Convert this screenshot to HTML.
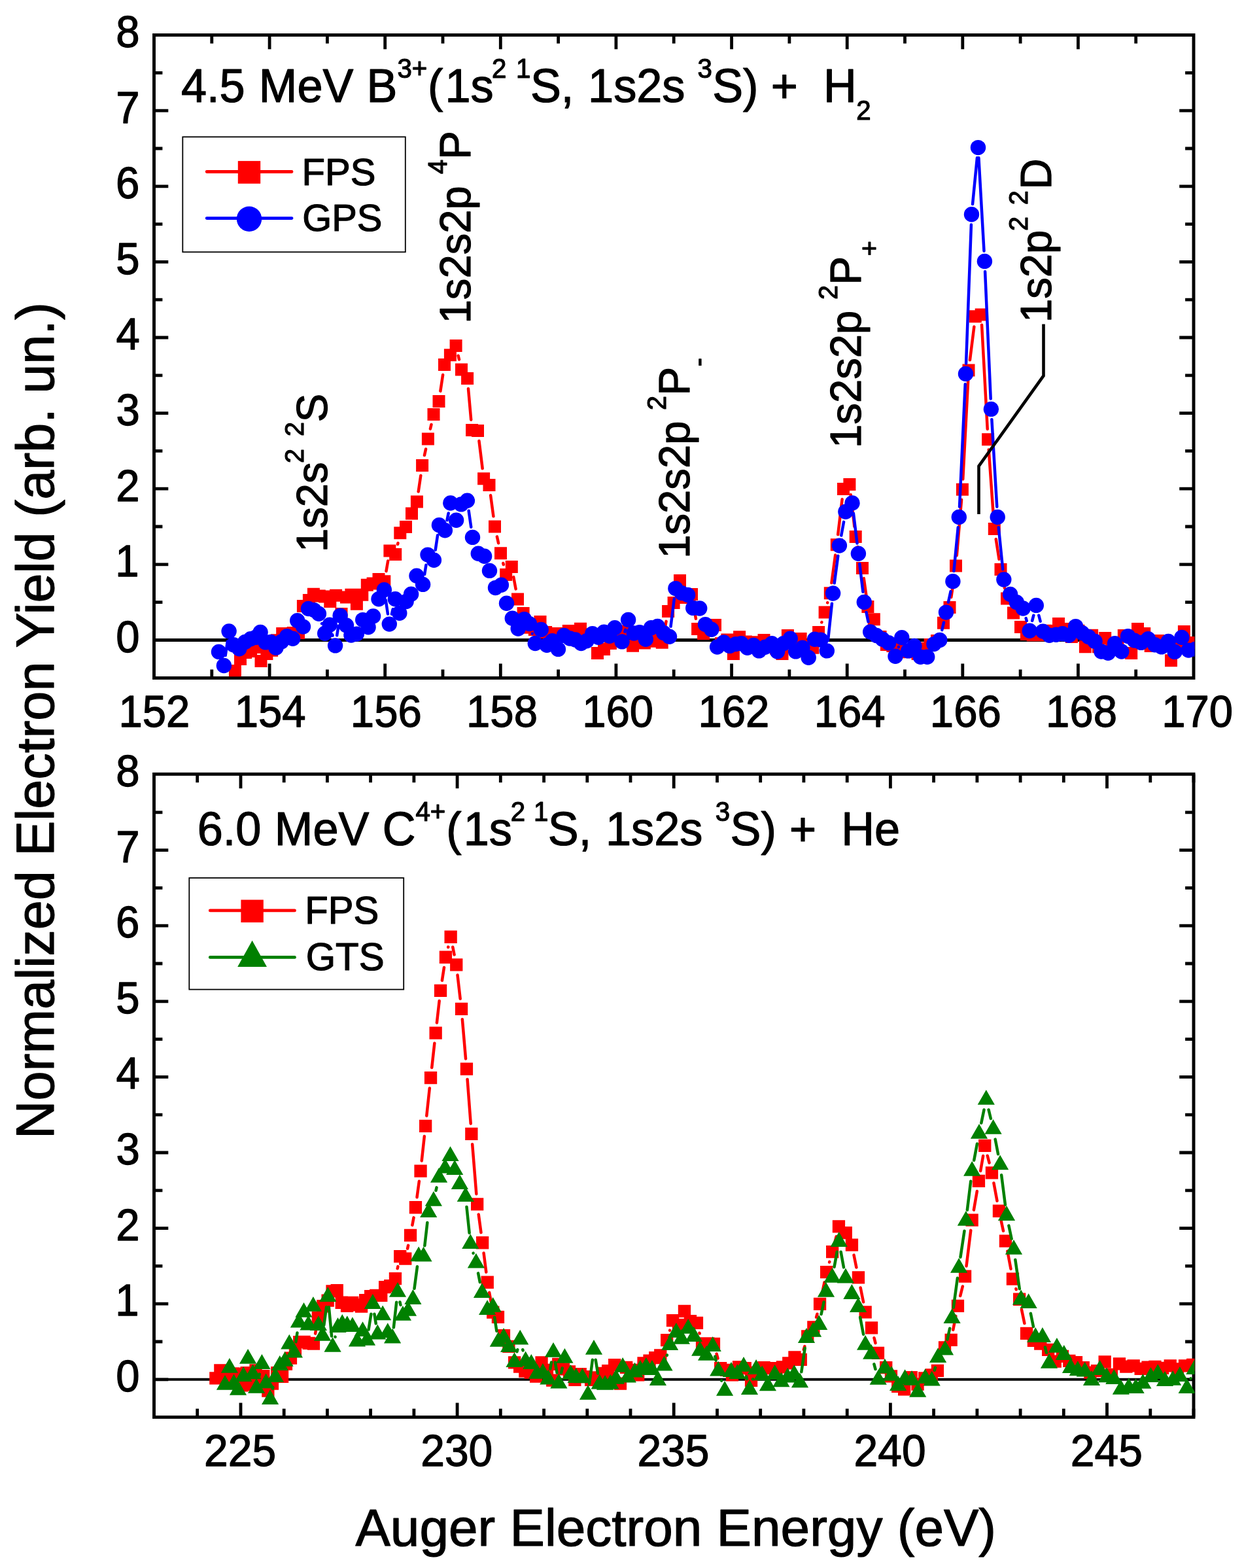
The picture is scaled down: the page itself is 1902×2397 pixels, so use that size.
<!DOCTYPE html>
<html lang="en"><head><meta charset="utf-8"><title>Normalized Electron Yield vs Auger Electron Energy</title>
<style>html,body{margin:0;padding:0;background:#fff}svg{display:block}text{font-family:"Liberation Sans",sans-serif;fill:#000;stroke:#000;stroke-width:1.2px;stroke-linejoin:round;white-space:pre}</style>
</head><body>
<svg width="1902" height="2397" viewBox="0 0 1902 2397">
<rect width="1902" height="2397" fill="#fff"/>
<line x1="235.5" y1="978.4" x2="1825.0" y2="978.4" stroke="#000" stroke-width="5.0"/>
<path d="M412.1,53.5v21.8M412.1,1036.4v-21.8M588.7,53.5v21.8M588.7,1036.4v-21.8M765.3,53.5v21.8M765.3,1036.4v-21.8M941.9,53.5v21.8M941.9,1036.4v-21.8M1118.6,53.5v21.8M1118.6,1036.4v-21.8M1295.2,53.5v21.8M1295.2,1036.4v-21.8M1471.8,53.5v21.8M1471.8,1036.4v-21.8M1648.4,53.5v21.8M1648.4,1036.4v-21.8M323.8,53.5v12.9M323.8,1036.4v-12.9M500.4,53.5v12.9M500.4,1036.4v-12.9M677,53.5v12.9M677,1036.4v-12.9M853.6,53.5v12.9M853.6,1036.4v-12.9M1030.2,53.5v12.9M1030.2,1036.4v-12.9M1206.9,53.5v12.9M1206.9,1036.4v-12.9M1383.5,53.5v12.9M1383.5,1036.4v-12.9M1560.1,53.5v12.9M1560.1,1036.4v-12.9M1736.7,53.5v12.9M1736.7,1036.4v-12.9M235.5,978.4h21.8M1825,978.4h-21.8M235.5,920.6h12.9M1825,920.6h-12.9M235.5,862.8h21.8M1825,862.8h-21.8M235.5,805h12.9M1825,805h-12.9M235.5,747.2h21.8M1825,747.2h-21.8M235.5,689.4h12.9M1825,689.4h-12.9M235.5,631.6h21.8M1825,631.6h-21.8M235.5,573.8h12.9M1825,573.8h-12.9M235.5,516h21.8M1825,516h-21.8M235.5,458.2h12.9M1825,458.2h-12.9M235.5,400.4h21.8M1825,400.4h-21.8M235.5,342.6h12.9M1825,342.6h-12.9M235.5,284.8h21.8M1825,284.8h-21.8M235.5,227h12.9M1825,227h-12.9M235.5,169.2h21.8M1825,169.2h-21.8M235.5,111.4h12.9M1825,111.4h-12.9" stroke="#000" stroke-width="4.8" fill="none"/>
<rect x="235.5" y="53.55" width="1589.5" height="982.9" fill="none" stroke="#000" stroke-width="4.9"/>
<svg x="233.2" y="51.2" width="1593.2" height="983" viewBox="233.2 51.2 1593.2 983" overflow="hidden">
<path d="M459.13,951.82L460.77,942.08M590.49,873.13L593.21,857.47M608.05,832.06L608.45,830.24M639.7,751.47L643.3,727.03M648.96,695.96L651.04,686.44M657.94,655.6L659.46,649M673.37,597.88L677.13,573.02M700.64,543.8L701.96,549.5M716,594.24L720.2,641.66M732.44,674.08L737.66,716.12M750.1,757.26L754.4,789.24M759.9,820.33L762.1,830.27M769.34,861.03L769.86,863.07M785.2,882.13L788.6,900.37M1015.24,966.8L1018.56,949.9M1034.31,906.27L1035.29,902.73M1060.18,924.17L1063.92,945.83M1256.3,951.41L1256.4,951.09M1265.19,921.4L1265.21,921.3M1271.42,891.04L1277.18,848.46M1281.18,817.11L1287.62,763.19M1300.72,756.29L1306.38,804.91M1311.52,836.05L1315.18,853.05M1320.72,884.14L1324.68,911.96M1454.33,912.87L1459.17,880.53M1462.84,849.16L1470.06,764.04M1472.23,732.52L1480.17,581.78M1482.96,550.32L1489.34,499.48M1501.06,496.68L1509.74,655.92M1511.72,687.46L1519.18,792.84M1522.75,824.21L1527.55,854.79M1533.29,885.85L1536.21,899.55M1733.74,983.22L1735.46,976.68" fill="none" stroke="#ff0000" stroke-width="4.5" stroke-linecap="round"/>
<path d="M349.9,1015.9h19v19h-19zM358,997.9h19v19h-19zM366.1,987.9h19v19h-19zM374.1,986h19v19h-19zM382,980.1h19v19h-19zM389.5,1001h19v19h-19zM398.4,990h19v19h-19zM406.1,984.8h19v19h-19zM414.1,969.2h19v19h-19zM422.2,958.9h19v19h-19zM430.5,959.3h19v19h-19zM438.6,957.9h19v19h-19zM447,957.9h19v19h-19zM453.9,917h19v19h-19zM462.9,907.9h19v19h-19zM469.9,898.8h19v19h-19zM478.8,901.6h19v19h-19zM487.2,902.6h19v19h-19zM495.3,910h19v19h-19zM504.1,900.7h19v19h-19zM512.5,929.1h19v19h-19zM520,903.5h19v19h-19zM527.4,899.8h19v19h-19zM535.9,913.8h19v19h-19zM544.3,899.8h19v19h-19zM551.8,884.8h19v19h-19zM560.6,882.4h19v19h-19zM569.5,876h19v19h-19zM578.3,879.2h19v19h-19zM586.4,832.4h19v19h-19zM595.2,838h19v19h-19zM602.3,805.3h19v19h-19zM611,796h19v19h-19zM620,775.4h19v19h-19zM627.9,757.6h19v19h-19zM636.1,701.9h19v19h-19zM644.9,661.5h19v19h-19zM653.5,624.1h19v19h-19zM661.5,604h19v19h-19zM670,547.9h19v19h-19zM678.9,533.3h19v19h-19zM687.6,518.9h19v19h-19zM696,555.4h19v19h-19zM705.1,569h19v19h-19zM712.1,647.9h19v19h-19zM721,648.9h19v19h-19zM730.1,722.3h19v19h-19zM738.5,732.1h19v19h-19zM747,795.4h19v19h-19zM756,836.2h19v19h-19zM764.2,868.9h19v19h-19zM772.8,857.1h19v19h-19zM782,906.4h19v19h-19zM790.6,928h19v19h-19zM799.5,949.7h19v19h-19zM807.9,953h19v19h-19zM816.5,941.1h19v19h-19zM825.2,957h19v19h-19zM834.1,959.1h19v19h-19zM842.5,959.1h19v19h-19zM851.1,960h19v19h-19zM859.8,955h19v19h-19zM868.9,955.3h19v19h-19zM878,951.8h19v19h-19zM886.7,962.8h19v19h-19zM895.3,962.8h19v19h-19zM904,989h19v19h-19zM914,982.9h19v19h-19zM923.9,974h19v19h-19zM932.4,959.1h19v19h-19zM941,957.9h19v19h-19zM949.5,955.6h19v19h-19zM958,977.7h19v19h-19zM966.9,970.8h19v19h-19zM975.9,973.6h19v19h-19zM984.8,970.8h19v19h-19zM993.8,964.9h19v19h-19zM1002.7,972.8h19v19h-19zM1012.1,924.9h19v19h-19zM1020.6,912h19v19h-19zM1030,878h19v19h-19zM1038.6,904h19v19h-19zM1048,899.1h19v19h-19zM1057.1,951.9h19v19h-19zM1066.1,959h19v19h-19zM1075,952.1h19v19h-19zM1084,946h19v19h-19zM1092.9,974.3h19v19h-19zM1102.4,968.6h19v19h-19zM1111.9,989.9h19v19h-19zM1121.1,964.3h19v19h-19zM1130.8,971.4h19v19h-19zM1140,972.3h19v19h-19zM1149.1,972.3h19v19h-19zM1158.5,969h19v19h-19zM1167.8,976.1h19v19h-19zM1177.2,981.7h19v19h-19zM1186.5,990.1h19v19h-19zM1194.9,962h19v19h-19zM1205.2,972.3h19v19h-19zM1214.6,967.1h19v19h-19zM1223.9,977.9h19v19h-19zM1233.3,980.8h19v19h-19zM1242.1,957h19v19h-19zM1251.6,926.5h19v19h-19zM1259.8,897.2h19v19h-19zM1269.8,823.3h19v19h-19zM1280,738h19v19h-19zM1289.4,731.1h19v19h-19zM1298.7,811.1h19v19h-19zM1309,859h19v19h-19zM1317.4,918.1h19v19h-19zM1326.8,937.2h19v19h-19zM1336.5,963.9h19v19h-19zM1345.9,976.1h19v19h-19zM1355.4,977.9h19v19h-19zM1365,979.8h19v19h-19zM1374.5,987.3h19v19h-19zM1384,985.4h19v19h-19zM1393.6,990.1h19v19h-19zM1403.1,981.7h19v19h-19zM1412.6,976.1h19v19h-19zM1423,970h19v19h-19zM1433,942.8h19v19h-19zM1442.5,919h19v19h-19zM1452,855.4h19v19h-19zM1461.9,738.8h19v19h-19zM1471.5,556.5h19v19h-19zM1481.8,474.3h19v19h-19zM1490.7,471.4h19v19h-19zM1501.1,662.2h19v19h-19zM1510.8,799.1h19v19h-19zM1520.5,860.9h19v19h-19zM1530,905.5h19v19h-19zM1540,927.4h19v19h-19zM1551,949.1h19v19h-19zM1559.9,960.1h19v19h-19zM1569.8,961.2h19v19h-19zM1579.7,961.2h19v19h-19zM1589.6,954.7h19v19h-19zM1599.3,955.6h19v19h-19zM1609,943.9h19v19h-19zM1619,951.9h19v19h-19zM1628.9,964h19v19h-19zM1639.3,954.7h19v19h-19zM1649.9,979.2h19v19h-19zM1660.1,961.7h19v19h-19zM1670,979.2h19v19h-19zM1680.2,965.9h19v19h-19zM1689.8,978h19v19h-19zM1699.4,978h19v19h-19zM1708.8,961.9h19v19h-19zM1720.2,989h19v19h-19zM1730,951.9h19v19h-19zM1740.2,958.9h19v19h-19zM1749.7,978h19v19h-19zM1760.9,970.1h19v19h-19zM1771,973.4h19v19h-19zM1781,1000.2h19v19h-19zM1790.8,978h19v19h-19zM1800.9,956.1h19v19h-19zM1811.4,972.9h19v19h-19z" fill="#ff0000"/>
<path d="M344.69,1001.87L347.81,980.53M492.04,953.15L492.06,953.25M508.24,970.38L508.56,971.62M515.15,971.31L517.55,956.69M589.76,917.42L592.94,938.48M598.91,938.72L600.69,931.18M649.15,877.81L651.45,863.69M665.73,840.67L669.07,818.33M683.52,795.21L685.68,784.49M716.65,780.84L720.25,805.76M813.89,968.5L813.91,968.6M955.36,965.71L956.24,962.69M1025.5,957.63L1030.9,915.27M1265.96,979.19L1271.94,922.71M1275.71,891.34L1281.29,849.76M1286.25,818.56L1290.05,797.84M1304.91,784.68L1310.49,830.52M1314.28,861.89L1319.42,904.81M1324.5,935.97L1327.5,950.43M1373.88,989.05L1373.92,988.95M1440.32,963.1L1442.98,951.5M1449.89,920.67L1453.51,904.13M1458.41,872.97L1464.79,806.23M1467.04,774.72L1475.76,587.28M1477.08,555.71L1484.92,343.59M1487.04,312.08L1493.96,241.32M1496.4,241.37L1504.5,383.63M1506.1,415.18L1514.7,609.62M1516.34,641.17L1524.26,774.73M1526.78,806.22L1533.22,870.18M1568.63,945.17L1569.77,949.03M1578.18,948.91L1580.32,940.69M1588.27,940.69L1590.63,949.81" fill="none" stroke="#0000ff" stroke-width="4.5" stroke-linecap="round"/>
<g fill="#0000ff"><circle cx="334.5" cy="996.4" r="11.7"/><circle cx="342.4" cy="1017.5" r="11.7"/><circle cx="350.1" cy="964.9" r="11.7"/><circle cx="356.9" cy="985.7" r="11.7"/><circle cx="365.8" cy="991.7" r="11.7"/><circle cx="374.7" cy="981.5" r="11.7"/><circle cx="383.1" cy="976.8" r="11.7"/><circle cx="390.6" cy="974.4" r="11.7"/><circle cx="398.1" cy="966.5" r="11.7"/><circle cx="406" cy="981.9" r="11.7"/><circle cx="414" cy="981.5" r="11.7"/><circle cx="421.9" cy="990.2" r="11.7"/><circle cx="430.3" cy="981" r="11.7"/><circle cx="438.8" cy="972.6" r="11.7"/><circle cx="447.6" cy="976.3" r="11.7"/><circle cx="454.7" cy="948.7" r="11.7"/><circle cx="463.5" cy="958.1" r="11.7"/><circle cx="471.5" cy="930.5" r="11.7"/><circle cx="479.9" cy="932.6" r="11.7"/><circle cx="487.4" cy="938.2" r="11.7"/><circle cx="496.7" cy="968.2" r="11.7"/><circle cx="504.2" cy="955.1" r="11.7"/><circle cx="512.6" cy="986.9" r="11.7"/><circle cx="520.1" cy="941.1" r="11.7"/><circle cx="529.5" cy="956" r="11.7"/><circle cx="536.9" cy="971" r="11.7"/><circle cx="545.4" cy="969.1" r="11.7"/><circle cx="554.7" cy="947.6" r="11.7"/><circle cx="563.1" cy="958.8" r="11.7"/><circle cx="570.6" cy="942" r="11.7"/><circle cx="579" cy="915.8" r="11.7"/><circle cx="587.4" cy="901.8" r="11.7"/><circle cx="595.3" cy="954.1" r="11.7"/><circle cx="604.3" cy="915.8" r="11.7"/><circle cx="610.8" cy="937.3" r="11.7"/><circle cx="621.1" cy="919.5" r="11.7"/><circle cx="628.6" cy="908.3" r="11.7"/><circle cx="637" cy="880.3" r="11.7"/><circle cx="646.6" cy="893.4" r="11.7"/><circle cx="654" cy="848.1" r="11.7"/><circle cx="663.4" cy="856.3" r="11.7"/><circle cx="671.4" cy="802.7" r="11.7"/><circle cx="680.4" cy="810.7" r="11.7"/><circle cx="688.8" cy="769" r="11.7"/><circle cx="697.6" cy="795.2" r="11.7"/><circle cx="705.1" cy="770.9" r="11.7"/><circle cx="714.4" cy="765.2" r="11.7"/><circle cx="722.5" cy="821.4" r="11.7"/><circle cx="731.3" cy="846.2" r="11.7"/><circle cx="740.6" cy="850.3" r="11.7"/><circle cx="748.5" cy="872.4" r="11.7"/><circle cx="757.5" cy="898.6" r="11.7"/><circle cx="766.4" cy="894.3" r="11.7"/><circle cx="774.5" cy="922.3" r="11.7"/><circle cx="783.3" cy="945.2" r="11.7"/><circle cx="792.2" cy="961.1" r="11.7"/><circle cx="801.5" cy="946.6" r="11.7"/><circle cx="809.5" cy="953.6" r="11.7"/><circle cx="818.3" cy="983.5" r="11.7"/><circle cx="827.2" cy="962.5" r="11.7"/><circle cx="836.1" cy="986.3" r="11.7"/><circle cx="844.5" cy="979.8" r="11.7"/><circle cx="853.4" cy="992.4" r="11.7"/><circle cx="862.3" cy="971.4" r="11.7"/><circle cx="871.2" cy="976" r="11.7"/><circle cx="879.6" cy="977.9" r="11.7"/><circle cx="888.5" cy="983.5" r="11.7"/><circle cx="896.9" cy="979.8" r="11.7"/><circle cx="905.8" cy="968.6" r="11.7"/><circle cx="914.7" cy="974.2" r="11.7"/><circle cx="923.5" cy="966.2" r="11.7"/><circle cx="932" cy="972.3" r="11.7"/><circle cx="940" cy="959.7" r="11.7"/><circle cx="951" cy="980.9" r="11.7"/><circle cx="960.6" cy="947.5" r="11.7"/><circle cx="969.2" cy="968" r="11.7"/><circle cx="977.9" cy="966.8" r="11.7"/><circle cx="987.3" cy="977.3" r="11.7"/><circle cx="995.5" cy="959.8" r="11.7"/><circle cx="1005.4" cy="957.5" r="11.7"/><circle cx="1014.7" cy="967.4" r="11.7"/><circle cx="1023.5" cy="973.3" r="11.7"/><circle cx="1032.9" cy="899.6" r="11.7"/><circle cx="1042.2" cy="906.6" r="11.7"/><circle cx="1051.6" cy="909.5" r="11.7"/><circle cx="1059.7" cy="929.4" r="11.7"/><circle cx="1069.7" cy="930" r="11.7"/><circle cx="1078.5" cy="954.6" r="11.7"/><circle cx="1087.8" cy="962.2" r="11.7"/><circle cx="1096.6" cy="989" r="11.7"/><circle cx="1106.5" cy="982" r="11.7"/><circle cx="1115.6" cy="987.4" r="11.7"/><circle cx="1125" cy="984.6" r="11.7"/><circle cx="1133.4" cy="983.7" r="11.7"/><circle cx="1142.7" cy="990.3" r="11.7"/><circle cx="1152.1" cy="986.5" r="11.7"/><circle cx="1160.5" cy="994.9" r="11.7"/><circle cx="1169.8" cy="989.3" r="11.7"/><circle cx="1180.1" cy="983.7" r="11.7"/><circle cx="1188.6" cy="995.9" r="11.7"/><circle cx="1197.9" cy="983.7" r="11.7"/><circle cx="1208.2" cy="976.2" r="11.7"/><circle cx="1216.6" cy="995.9" r="11.7"/><circle cx="1226.9" cy="990.3" r="11.7"/><circle cx="1236.2" cy="1005.2" r="11.7"/><circle cx="1245.6" cy="977.2" r="11.7"/><circle cx="1254.9" cy="978.1" r="11.7"/><circle cx="1264.3" cy="994.9" r="11.7"/><circle cx="1273.6" cy="907" r="11.7"/><circle cx="1283.4" cy="834.1" r="11.7"/><circle cx="1292.9" cy="782.3" r="11.7"/><circle cx="1303" cy="769" r="11.7"/><circle cx="1312.4" cy="846.2" r="11.7"/><circle cx="1321.3" cy="920.5" r="11.7"/><circle cx="1330.7" cy="965.9" r="11.7"/><circle cx="1340" cy="971.5" r="11.7"/><circle cx="1349.4" cy="977.2" r="11.7"/><circle cx="1358.7" cy="982.8" r="11.7"/><circle cx="1369" cy="1003.3" r="11.7"/><circle cx="1378.8" cy="974.7" r="11.7"/><circle cx="1388.7" cy="994.9" r="11.7"/><circle cx="1398" cy="987.4" r="11.7"/><circle cx="1407.4" cy="1004.3" r="11.7"/><circle cx="1417.7" cy="1004.3" r="11.7"/><circle cx="1427.9" cy="984.6" r="11.7"/><circle cx="1436.8" cy="978.5" r="11.7"/><circle cx="1446.5" cy="936.1" r="11.7"/><circle cx="1456.9" cy="888.7" r="11.7"/><circle cx="1466.3" cy="790.5" r="11.7"/><circle cx="1476.5" cy="571.5" r="11.7"/><circle cx="1485.5" cy="327.8" r="11.7"/><circle cx="1495.5" cy="225.6" r="11.7"/><circle cx="1505.4" cy="399.4" r="11.7"/><circle cx="1515.4" cy="625.4" r="11.7"/><circle cx="1525.2" cy="790.5" r="11.7"/><circle cx="1534.8" cy="885.9" r="11.7"/><circle cx="1544.6" cy="908.4" r="11.7"/><circle cx="1554.3" cy="920.7" r="11.7"/><circle cx="1564.2" cy="930" r="11.7"/><circle cx="1574.2" cy="964.2" r="11.7"/><circle cx="1584.3" cy="925.4" r="11.7"/><circle cx="1594.6" cy="965.1" r="11.7"/><circle cx="1604.4" cy="971.2" r="11.7"/><circle cx="1614.7" cy="970.2" r="11.7"/><circle cx="1624.5" cy="968.8" r="11.7"/><circle cx="1634.3" cy="971.2" r="11.7"/><circle cx="1644.6" cy="957.6" r="11.7"/><circle cx="1654.4" cy="967.4" r="11.7"/><circle cx="1664.3" cy="973.5" r="11.7"/><circle cx="1674.1" cy="980.5" r="11.7"/><circle cx="1683.9" cy="996" r="11.7"/><circle cx="1694.2" cy="998.3" r="11.7"/><circle cx="1704.5" cy="983.8" r="11.7"/><circle cx="1714.8" cy="996" r="11.7"/><circle cx="1724.6" cy="972.6" r="11.7"/><circle cx="1734.4" cy="979.1" r="11.7"/><circle cx="1744.7" cy="982.4" r="11.7"/><circle cx="1755.5" cy="976.8" r="11.7"/><circle cx="1765.7" cy="985.7" r="11.7"/><circle cx="1776" cy="988.9" r="11.7"/><circle cx="1786.3" cy="980.5" r="11.7"/><circle cx="1796.1" cy="996.4" r="11.7"/><circle cx="1806.9" cy="974.4" r="11.7"/><circle cx="1817.2" cy="994.1" r="11.7"/><circle cx="1827.5" cy="992.2" r="11.7"/></g>
</svg>
<line x1="235.5" y1="2108.8" x2="1825.0" y2="2108.8" stroke="#000" stroke-width="4.0"/>
<path d="M368,1183.4v21.8M368,2166.4v-21.8M699.1,1183.4v21.8M699.1,2166.4v-21.8M1030.2,1183.4v21.8M1030.2,2166.4v-21.8M1361.4,1183.4v21.8M1361.4,2166.4v-21.8M1692.5,1183.4v21.8M1692.5,2166.4v-21.8M301.7,1183.4v12.9M301.7,2166.4v-12.9M434.2,1183.4v12.9M434.2,2166.4v-12.9M500.4,1183.4v12.9M500.4,2166.4v-12.9M566.6,1183.4v12.9M566.6,2166.4v-12.9M632.9,1183.4v12.9M632.9,2166.4v-12.9M765.3,1183.4v12.9M765.3,2166.4v-12.9M831.6,1183.4v12.9M831.6,2166.4v-12.9M897.8,1183.4v12.9M897.8,2166.4v-12.9M964,1183.4v12.9M964,2166.4v-12.9M1096.5,1183.4v12.9M1096.5,2166.4v-12.9M1162.7,1183.4v12.9M1162.7,2166.4v-12.9M1228.9,1183.4v12.9M1228.9,2166.4v-12.9M1295.2,1183.4v12.9M1295.2,2166.4v-12.9M1427.6,1183.4v12.9M1427.6,2166.4v-12.9M1493.9,1183.4v12.9M1493.9,2166.4v-12.9M1560.1,1183.4v12.9M1560.1,2166.4v-12.9M1626.3,1183.4v12.9M1626.3,2166.4v-12.9M1758.8,1183.4v12.9M1758.8,2166.4v-12.9M1825,1183.4v12.9M1825,2166.4v-12.9M235.5,2108.8h21.8M1825,2108.8h-21.8M235.5,2051h12.9M1825,2051h-12.9M235.5,1993.2h21.8M1825,1993.2h-21.8M235.5,1935.4h12.9M1825,1935.4h-12.9M235.5,1877.6h21.8M1825,1877.6h-21.8M235.5,1819.8h12.9M1825,1819.8h-12.9M235.5,1762h21.8M1825,1762h-21.8M235.5,1704.2h12.9M1825,1704.2h-12.9M235.5,1646.4h21.8M1825,1646.4h-21.8M235.5,1588.6h12.9M1825,1588.6h-12.9M235.5,1530.8h21.8M1825,1530.8h-21.8M235.5,1473h12.9M1825,1473h-12.9M235.5,1415.2h21.8M1825,1415.2h-21.8M235.5,1357.4h12.9M1825,1357.4h-12.9M235.5,1299.6h21.8M1825,1299.6h-21.8M235.5,1241.8h12.9M1825,1241.8h-12.9" stroke="#000" stroke-width="4.8" fill="none"/>
<rect x="235.5" y="1183.4" width="1589.5" height="983" fill="none" stroke="#000" stroke-width="4.9"/>
<svg x="233.2" y="1181.1" width="1593.2" height="983.1" viewBox="233.2 1181.1 1593.2 983.1" overflow="hidden">
<path d="M482.09,2038.63L483.61,2029.87M607.73,1939.15L608.37,1936.15M623.07,1908.66L624.13,1903.84M630.38,1872.86L632.52,1861.34M637.54,1830.15L640.86,1805.75M644.74,1774.4L648.86,1737.1M652.28,1705.69L656.82,1663.41M660.24,1632L664.36,1594.8M667.9,1563.4L671.7,1530.1M675.91,1498.79L678.99,1478.91M685.21,1447.97L685.29,1447.63M692.23,1447.79L694.57,1459.41M699.51,1490.6L703.69,1526.8M706.86,1558.24L712.04,1618.46M714.59,1649.96L719.71,1717.64M722.17,1749.15L728.33,1825.15M731.73,1856.56L735.47,1884.14M739.59,1915.47L743.31,1944.63M748.14,1975.84L750.86,1990.66M1024.09,2033.7L1024.11,2033.6M1069.45,2037.7L1069.65,2038.5M1095.61,2069.63L1097.49,2076.47M1228.79,2063.15L1230.31,2058.05M1248.08,2013.66L1249.42,2008.74M1256.8,1978.03L1260.5,1960.17M1268.11,1929.53L1268.29,1928.87M1276.57,1898.38L1278.63,1890.22M1305.53,1918.59L1309.37,1937.51M1315.63,1968.49L1320.07,1990.41M1336.5,2045.21L1338.5,2053.09M1438.14,2080.33L1439.86,2074.87M1457.24,2032.9L1461.36,2011.9M1468.19,1981.06L1471.81,1966.44M1477.54,1935.42L1484.26,1880.88M1488.89,1849.63L1493.81,1821.07M1499.18,1789.93L1503.12,1767.07M1509.75,1766.8L1512.55,1777.6M1519.4,1808.43L1524.5,1835.77M1530.77,1866.74L1534.03,1881.66M1540.34,1912.62L1545.46,1939.68M1553.37,1970.2L1553.73,1971.3M1561.93,2001.77L1566.37,2023.03" fill="none" stroke="#ff0000" stroke-width="4.5" stroke-linecap="round"/>
<path d="M320.2,2097.2h19.3v19.3h-19.3zM327.2,2085.2h19.3v19.3h-19.3zM334.2,2093.9h19.3v19.3h-19.3zM341.2,2093.9h19.3v19.3h-19.3zM347,2090.3h19.3v19.3h-19.3zM353.6,2090.8h19.3v19.3h-19.3zM360.5,2108.3h19.3v19.3h-19.3zM367.5,2089h19.3v19.3h-19.3zM374.5,2107h19.3v19.3h-19.3zM381.4,2085.2h19.3v19.3h-19.3zM387.1,2098h19.3v19.3h-19.3zM393.2,2093.9h19.3v19.3h-19.3zM400.2,2116.4h19.3v19.3h-19.3zM406.8,2105.4h19.3v19.3h-19.3zM414.1,2089h19.3v19.3h-19.3zM421.9,2094.8h19.3v19.3h-19.3zM427.8,2075.5h19.3v19.3h-19.3zM434.8,2066.5h19.3v19.3h-19.3zM441.8,2055h19.3v19.3h-19.3zM448.1,2042h19.3v19.3h-19.3zM455.5,2041.7h19.3v19.3h-19.3zM462.5,2043.7h19.3v19.3h-19.3zM469.8,2044.5h19.3v19.3h-19.3zM476.7,2004.6h19.3v19.3h-19.3zM484.2,1987.1h19.3v19.3h-19.3zM491.5,1978.4h19.3v19.3h-19.3zM498.4,1964.3h19.3v19.3h-19.3zM505.6,1962.9h19.3v19.3h-19.3zM512.6,1981.6h19.3v19.3h-19.3zM520.9,1986.6h19.3v19.3h-19.3zM529.1,1981.8h19.3v19.3h-19.3zM536.1,1985.1h19.3v19.3h-19.3zM542.9,1987.4h19.3v19.3h-19.3zM549,1978h19.3v19.3h-19.3zM557,1971.9h19.3v19.3h-19.3zM565.1,1970.8h19.3v19.3h-19.3zM573.1,1970.8h19.3v19.3h-19.3zM579,1957.9h19.3v19.3h-19.3zM587.1,1955.9h19.3v19.3h-19.3zM594.8,1944.9h19.3v19.3h-19.3zM602.1,1911h19.3v19.3h-19.3zM610.1,1914.4h19.3v19.3h-19.3zM617.9,1878.8h19.3v19.3h-19.3zM625.8,1836.1h19.3v19.3h-19.3zM633.4,1780.4h19.3v19.3h-19.3zM641,1711.8h19.3v19.3h-19.3zM648.9,1638h19.3v19.3h-19.3zM656.5,1569.4h19.3v19.3h-19.3zM663.9,1504.8h19.3v19.3h-19.3zM671.8,1453.6h19.3v19.3h-19.3zM679.5,1422.6h19.3v19.3h-19.3zM688.1,1465.2h19.3v19.3h-19.3zM695.9,1532.8h19.3v19.3h-19.3zM703.8,1624.5h19.3v19.3h-19.3zM711.2,1723.8h19.3v19.3h-19.3zM720,1831.2h19.3v19.3h-19.3zM728,1890.1h19.3v19.3h-19.3zM735.6,1950.6h19.3v19.3h-19.3zM744.1,1996.5h19.3v19.3h-19.3zM751.8,2003.8h19.3v19.3h-19.3zM760.8,2031.9h19.3v19.3h-19.3zM768.2,2048.7h19.3v19.3h-19.3zM777,2073.2h19.3v19.3h-19.3zM785,2079.5h19.3v19.3h-19.3zM793.2,2086.5h19.3v19.3h-19.3zM801.6,2088.5h19.3v19.3h-19.3zM810,2094.5h19.3v19.3h-19.3zM818.4,2073.2h19.3v19.3h-19.3zM826.8,2084.7h19.3v19.3h-19.3zM835.1,2100.4h19.3v19.3h-19.3zM844.1,2075.7h19.3v19.3h-19.3zM851.8,2083.3h19.3v19.3h-19.3zM860.8,2087.2h19.3v19.3h-19.3zM869.2,2099.7h19.3v19.3h-19.3zM877.6,2091h19.3v19.3h-19.3zM885.9,2094.9h19.3v19.3h-19.3zM894,2099.7h19.3v19.3h-19.3zM902.6,2096.2h19.3v19.3h-19.3zM911.6,2089.8h19.3v19.3h-19.3zM920,2085.9h19.3v19.3h-19.3zM930,2076.9h19.3v19.3h-19.3zM938.8,2105.4h19.3v19.3h-19.3zM948,2080.8h19.3v19.3h-19.3zM957,2084.7h19.3v19.3h-19.3zM966,2092.3h19.3v19.3h-19.3zM974.4,2074.3h19.3v19.3h-19.3zM983.4,2070.5h19.3v19.3h-19.3zM992.1,2066h19.3v19.3h-19.3zM1000.1,2062.2h19.3v19.3h-19.3zM1010,2038.9h19.3v19.3h-19.3zM1018.9,2009h19.3v19.3h-19.3zM1027.8,2015.8h19.3v19.3h-19.3zM1036.8,1994.8h19.3v19.3h-19.3zM1045.8,2010h19.3v19.3h-19.3zM1055.8,2012.8h19.3v19.3h-19.3zM1063.9,2044.2h19.3v19.3h-19.3zM1073.3,2044.2h19.3v19.3h-19.3zM1081.8,2044.8h19.3v19.3h-19.3zM1092,2082h19.3v19.3h-19.3zM1101,2084.7h19.3v19.3h-19.3zM1109.8,2092.3h19.3v19.3h-19.3zM1119.9,2080.2h19.3v19.3h-19.3zM1129.6,2082h19.3v19.3h-19.3zM1138.9,2100.8h19.3v19.3h-19.3zM1148.5,2088.8h19.3v19.3h-19.3zM1158.4,2081h19.3v19.3h-19.3zM1167.9,2082h19.3v19.3h-19.3zM1177.3,2085.3h19.3v19.3h-19.3zM1186.8,2080.3h19.3v19.3h-19.3zM1196.1,2074.2h19.3v19.3h-19.3zM1205.3,2065.2h19.3v19.3h-19.3zM1214.6,2068.7h19.3v19.3h-19.3zM1225.1,2033.2h19.3v19.3h-19.3zM1234.2,2019.2h19.3v19.3h-19.3zM1243.9,1983.8h19.3v19.3h-19.3zM1254,1935h19.3v19.3h-19.3zM1263,1904h19.3v19.3h-19.3zM1272.8,1865.2h19.3v19.3h-19.3zM1283.6,1875h19.3v19.3h-19.3zM1292.8,1893.4h19.3v19.3h-19.3zM1302.8,1943.3h19.3v19.3h-19.3zM1313.5,1996.2h19.3v19.3h-19.3zM1322.9,2020.2h19.3v19.3h-19.3zM1332.8,2058.8h19.3v19.3h-19.3zM1345.1,2080.9h19.3v19.3h-19.3zM1352.8,2094.2h19.3v19.3h-19.3zM1363.1,2109.8h19.3v19.3h-19.3zM1373,2114.3h19.3v19.3h-19.3zM1383.6,2096h19.3v19.3h-19.3zM1393.4,2106.5h19.3v19.3h-19.3zM1404.1,2097.2h19.3v19.3h-19.3zM1414.6,2092.2h19.3v19.3h-19.3zM1423.8,2085.8h19.3v19.3h-19.3zM1434.9,2050.2h19.3v19.3h-19.3zM1444.5,2038.8h19.3v19.3h-19.3zM1454.8,1986.8h19.3v19.3h-19.3zM1465.9,1941.4h19.3v19.3h-19.3zM1476.5,1855.5h19.3v19.3h-19.3zM1486.8,1795.8h19.3v19.3h-19.3zM1496.1,1741.8h19.3v19.3h-19.3zM1506.8,1783.2h19.3v19.3h-19.3zM1517.8,1841.6h19.3v19.3h-19.3zM1527.8,1887.4h19.3v19.3h-19.3zM1538.8,1945.5h19.3v19.3h-19.3zM1549,1976.6h19.3v19.3h-19.3zM1559.9,2028.8h19.3v19.3h-19.3zM1570.8,2039.7h19.3v19.3h-19.3zM1581.1,2044.5h19.3v19.3h-19.3zM1593,2053.7h19.3v19.3h-19.3zM1603.6,2071.4h19.3v19.3h-19.3zM1614.8,2063.7h19.3v19.3h-19.3zM1625.2,2070.7h19.3v19.3h-19.3zM1635.8,2073h19.3v19.3h-19.3zM1646.6,2080.9h19.3v19.3h-19.3zM1657.3,2088.5h19.3v19.3h-19.3zM1667.8,2085.9h19.3v19.3h-19.3zM1679.5,2072.2h19.3v19.3h-19.3zM1689.8,2091.7h19.3v19.3h-19.3zM1701.8,2075.2h19.3v19.3h-19.3zM1712.2,2079.5h19.3v19.3h-19.3zM1723.5,2078.2h19.3v19.3h-19.3zM1734.5,2082.8h19.3v19.3h-19.3zM1745.4,2080.4h19.3v19.3h-19.3zM1756.3,2079.8h19.3v19.3h-19.3zM1767.8,2081.8h19.3v19.3h-19.3zM1779.6,2078.2h19.3v19.3h-19.3zM1790.8,2083.2h19.3v19.3h-19.3zM1801.9,2078.2h19.3v19.3h-19.3zM1814,2076.8h19.3v19.3h-19.3z" fill="#ff0000"/>
<path d="M395.66,2105.8L396.84,2100.6M416.77,2123.02L417.33,2120.58M452.34,2051.39L454.46,2037.51M495.3,2025.65L499.1,1998.05M502.84,1998.13L507.06,2042.47M512.54,2043.75L512.56,2043.65M563.55,2032.6L567.35,2008.8M572.45,2008.8L574.75,2023.3M601.9,2029.3L606.2,1990.8M611.47,1990.52L612.43,1994.88M633.53,1969.74L637.97,1936.16M649.34,1904.3L653.36,1869M666.49,1819.9L667.51,1815.4M713.48,1845.01L717.62,1884.79M723.59,1915.65L723.61,1915.75M731.08,1946.38L733.82,1960.02M756.15,2013.81L759.35,2034.69M790.46,2066.29L791.24,2063.21M799.24,2063.19L799.56,2064.41M841.23,2092.47L843.07,2082.53M848.8,2082.56L851.6,2098.54M858.05,2098.72L859.75,2091.38M901.1,2115.54L905.9,2078.76M910.64,2078.68L914.06,2099.42M1019.74,2071.87L1019.86,2071.43M1093.26,2073.6L1094.64,2079.7M1103.13,2110.55L1103.17,2110.65M1141.02,2104.39L1141.98,2108.11M1151.02,2108.4L1151.08,2108.2M1225.34,2097.17L1230.66,2060.83M1255.61,2008.96L1259.59,1990.54M1275.53,1936.77L1279.77,1913.73M1285.63,1913.73L1289.97,1937.37M1315.13,2013.81L1320.07,2039.69M1336.41,2085.34L1338.49,2093.06M1428.85,2094.74L1429.95,2090.56M1448.45,2047.67L1452.15,2030.73M1457.78,1998.85L1463.92,1953.75M1468.5,1921.68L1474.5,1881.72M1478.87,1849.62L1484.23,1805.68M1489.22,1773.68L1493.98,1748.52M1500.3,1716.74L1504.5,1696.56M1511.58,1696.45L1514.82,1709.95M1521.67,1741.61L1526.03,1764.19M1531.15,1796.17L1536.95,1841.73M1542.36,1873.65L1546.64,1893.85M1552.32,1925.73L1558.78,1970.27M1575.85,2007.87L1579.95,2027.93M1597.88,2059.5L1600.02,2068M1820.53,2107.4L1820.57,2107.3" fill="none" stroke="#008000" stroke-width="4.5" stroke-linecap="round"/>
<path d="M344,2102L357.1,2124.8H330.9zM350.9,2076L364,2098.8H337.8zM357.5,2100.4L370.6,2123.2H344.4zM364,2110L377.1,2132.8H350.9zM372.2,2089.1L385.3,2111.9H359.1zM379.1,2061.9L392.2,2084.7H366zM386.5,2085.5L399.6,2108.3H373.4zM392.1,2106.9L405.2,2129.7H379zM400.4,2070.1L413.5,2092.9H387.3zM406.6,2099.5L419.7,2122.3H393.5zM413.1,2124.1L426.2,2146.9H400zM421,2090.1L434.1,2112.9H407.9zM427.8,2072.1L440.9,2094.9H414.7zM435.6,2066L448.7,2088.8H422.5zM442.3,2039.8L455.4,2062.6H429.2zM449.9,2052.7L463,2075.5H436.8zM456.9,2006.8L470,2029.6H443.8zM464.5,1991L477.6,2013.8H451.4zM471.5,2010.6L484.6,2033.4H458.4zM478.9,1982L492,2004.8H465.8zM486.9,2011.2L500,2034H473.8zM493.1,2027L506.2,2049.8H480zM501.3,1967.3L514.4,1990.1H488.2zM508.6,2043.9L521.7,2066.7H495.5zM516.5,2014.1L529.6,2036.9H503.4zM523.3,2009.1L536.4,2031.9H510.2zM530.8,2011.2L543.9,2034H517.7zM538.9,2013.2L552,2036H525.8zM546,2035.8L559.1,2058.6H532.9zM554.5,2020.2L567.6,2043H541.4zM561,2033.9L574.1,2056.7H547.9zM569.9,1978.1L583,2000.9H556.8zM577.3,2024.6L590.4,2047.4H564.2zM585.1,1995.4L598.2,2018.2H572zM592.8,2022.3L605.9,2045.1H579.7zM600.1,2030.7L613.2,2053.5H587zM608,1960L621.1,1982.8H594.9zM615.9,1996L629,2018.8H602.8zM624,1989L637.1,2011.8H610.9zM631.4,1971.1L644.5,1993.9H618.3zM640.1,1905.4L653.2,1928.2H627zM647.5,1905.7L660.6,1928.5H634.4zM655.2,1838.2L668.3,1861H642.1zM662.9,1821L676,1843.8H649.8zM671.1,1784.9L684.2,1807.7H658zM680.5,1770.8L693.6,1793.6H667.4zM688.5,1752.2L701.6,1775H675.4zM695.2,1773.1L708.3,1795.9H682.1zM702.9,1795.3L716,1818.1H689.8zM711.8,1814.2L724.9,1837H698.7zM719.3,1886.2L732.4,1909H706.2zM727.9,1915.8L741,1938.6H714.8zM737,1961.2L750.1,1984H723.9zM745.1,1987.3L758.2,2010.1H732zM753.7,1983.1L766.8,2005.9H740.6zM761.8,2036L774.9,2058.8H748.7zM770.1,2030L783.2,2052.8H757zM778.1,2044.3L791.2,2067.1H765zM786.5,2067.3L799.6,2090.1H773.4zM795.2,2032.8L808.3,2055.6H782.1zM803.6,2065.4L816.7,2088.2H790.5zM812.3,2070.1L825.4,2092.9H799.2zM821.2,2085L834.3,2107.8H808.1zM829.9,2084L843,2106.8H816.8zM838.3,2093.7L851.4,2116.5H825.2zM846,2051.9L859.1,2074.7H832.9zM854.4,2099.8L867.5,2122.6H841.3zM863.4,2060.9L876.5,2083.7H850.3zM872.4,2085.9L885.5,2108.7H859.3zM880.7,2091.1L893.8,2113.9H867.6zM890.4,2091.5L903.5,2114.3H877.3zM899,2116.9L912.1,2139.7H885.9zM908,2048L921.1,2070.8H894.9zM916.7,2100.7L929.8,2123.5H903.6zM925.1,2102L938.2,2124.8H912zM933.4,2100.7L946.5,2123.5H920.3zM941.8,2093L954.9,2115.8H928.7zM952.1,2075L965.2,2097.8H939zM959.8,2090.8L972.9,2113.6H946.7zM970.5,2082.7L983.6,2105.5H957.4zM978.9,2078.9L992,2101.7H965.8zM987.9,2075L1001,2097.8H974.8zM996.9,2079.1L1010,2101.9H983.8zM1005.9,2095.1L1019,2117.9H992.8zM1015.5,2072.8L1028.6,2095.6H1002.4zM1024.1,2041.1L1037.2,2063.9H1011zM1033.9,2022L1047,2044.8H1020.8zM1041.9,2031.9L1055,2054.7H1028.8zM1052.2,2015.9L1065.3,2038.7H1039.1zM1060.9,2028.1L1074,2050.9H1047.8zM1070.2,2049.9L1083.3,2072.7H1057.1zM1080.1,2057L1093.2,2079.8H1067zM1089.7,2043.1L1102.8,2065.9H1076.6zM1098.2,2080.8L1111.3,2103.6H1085.1zM1108.1,2111L1121.2,2133.8H1095zM1118,2082.1L1131.1,2104.9H1104.9zM1127.4,2085.3L1140.5,2108.1H1114.3zM1137,2074L1150.1,2096.8H1123.9zM1146,2109.1L1159.1,2131.9H1132.9zM1156.1,2078.1L1169.2,2100.9H1143zM1165.2,2087.5L1178.3,2110.3H1152.1zM1173.9,2103.4L1187,2126.2H1160.8zM1184.6,2086.1L1197.7,2108.9H1171.5zM1194.4,2097.5L1207.5,2120.3H1181.3zM1204.2,2090.7L1217.3,2113.5H1191.1zM1214.3,2086.3L1227.4,2109.1H1201.2zM1223,2098.5L1236.1,2121.3H1209.9zM1233,2030.1L1246.1,2052.9H1219.9zM1243.1,2021L1256.2,2043.8H1230zM1252.2,2010.1L1265.3,2032.9H1239.1zM1263,1960L1276.1,1982.8H1249.9zM1272.6,1938L1285.7,1960.8H1259.5zM1282.7,1883.1L1295.8,1905.9H1269.6zM1292.9,1938.6L1306,1961.4H1279.8zM1302.4,1963.1L1315.5,1985.9H1289.3zM1312.1,1983.2L1325.2,2006H1299zM1323.1,2040.9L1336.2,2063.7H1310zM1332.2,2055L1345.3,2077.8H1319.1zM1342.7,2094L1355.8,2116.8H1329.6zM1352.9,2076.7L1366,2099.5H1339.8zM1363,2087.9L1376.1,2110.7H1349.9zM1373.1,2103.1L1386.2,2125.9H1360zM1383.6,2093.2L1396.7,2116H1370.5zM1394.1,2095L1407.2,2117.8H1381zM1403.2,2113L1416.3,2135.8H1390.1zM1414.6,2092.2L1427.7,2115H1401.5zM1424.7,2095.7L1437.8,2118.5H1411.6zM1434.1,2060.2L1447.2,2083H1421zM1445,2048.8L1458.1,2071.6H1431.9zM1455.6,2000.2L1468.7,2023H1442.5zM1466.1,1923L1479.2,1945.8H1453zM1476.9,1851L1490,1873.8H1463.8zM1486.2,1774.9L1499.3,1797.7H1473.1zM1497,1717.9L1510.1,1740.7H1483.9zM1507.8,1666L1520.9,1688.8H1494.7zM1518.6,1711L1531.7,1733.8H1505.5zM1529.1,1765.4L1542.2,1788.2H1516zM1539,1843.1L1552.1,1865.9H1525.9zM1550,1895L1563.1,1917.8H1536.9zM1561.1,1971.6L1574.2,1994.4H1548zM1572.6,1977.3L1585.7,2000.1H1559.5zM1583.2,2029.1L1596.3,2051.9H1570.1zM1593.9,2029.1L1607,2051.9H1580.8zM1604,2069L1617.1,2091.8H1590.9zM1615.9,2044.9L1629,2067.7H1602.8zM1626.8,2056.1L1639.9,2078.9H1613.7zM1637,2076.1L1650.1,2098.9H1623.9zM1647.8,2080.3L1660.9,2103.1H1634.7zM1658.7,2081.7L1671.8,2104.5H1645.6zM1669,2095.1L1682.1,2117.9H1655.9zM1681.5,2079.1L1694.6,2101.9H1668.4zM1692.1,2090.4L1705.2,2113.2H1679zM1703.3,2093.2L1716.4,2116H1690.2zM1713.9,2109L1727,2131.8H1700.8zM1725.8,2106.2L1738.9,2129H1712.7zM1736.6,2107.2L1749.7,2130H1723.5zM1747.4,2100L1760.5,2122.8H1734.3zM1759.4,2090.1L1772.5,2112.9H1746.3zM1770.2,2085.2L1783.3,2108H1757.1zM1781,2096.1L1794.1,2118.9H1767.9zM1793.1,2095L1806.2,2117.8H1780zM1803.9,2089.1L1817,2111.9H1790.8zM1814.7,2107.1L1827.8,2129.9H1801.6zM1826.4,2078.2L1839.5,2101H1813.3z" fill="#008000"/>
</svg>
<g>
<text transform="translate(177.24,996.7) scale(1,1.045)" font-size="65.3">0</text>
<text transform="translate(176.35,881.1) scale(1,1.045)" font-size="65.3">1</text>
<text transform="translate(177.24,765.5) scale(1,1.045)" font-size="65.3">2</text>
<text transform="translate(177.43,649.9) scale(1,1.045)" font-size="65.3">3</text>
<text transform="translate(177.45,534.3) scale(1,1.045)" font-size="65.3">4</text>
<text transform="translate(177.31,418.7) scale(1,1.045)" font-size="65.3">5</text>
<text transform="translate(177.02,303.1) scale(1,1.045)" font-size="65.3">6</text>
<text transform="translate(177.21,187.5) scale(1,1.045)" font-size="65.3">7</text>
<text transform="translate(177.24,71.9) scale(1,1.045)" font-size="65.3">8</text>
<text transform="translate(177.24,2126.7) scale(1,1.045)" font-size="65.3">0</text>
<text transform="translate(176.35,2011.1) scale(1,1.045)" font-size="65.3">1</text>
<text transform="translate(177.24,1895.5) scale(1,1.045)" font-size="65.3">2</text>
<text transform="translate(177.43,1779.9) scale(1,1.045)" font-size="65.3">3</text>
<text transform="translate(177.45,1664.3) scale(1,1.045)" font-size="65.3">4</text>
<text transform="translate(177.31,1548.7) scale(1,1.045)" font-size="65.3">5</text>
<text transform="translate(177.02,1433.1) scale(1,1.045)" font-size="65.3">6</text>
<text transform="translate(177.21,1317.5) scale(1,1.045)" font-size="65.3">7</text>
<text transform="translate(177.24,1201.9) scale(1,1.045)" font-size="65.3">8</text>
<text transform="translate(181.43,1110.7) scale(1,1.045)" font-size="65.3">152</text>
<text transform="translate(358.63,1110.7) scale(1,1.045)" font-size="65.3">154</text>
<text transform="translate(535.83,1110.7) scale(1,1.045)" font-size="65.3">156</text>
<text transform="translate(713.03,1110.7) scale(1,1.045)" font-size="65.3">158</text>
<text transform="translate(890.23,1110.7) scale(1,1.045)" font-size="65.3">160</text>
<text transform="translate(1067.43,1110.7) scale(1,1.045)" font-size="65.3">162</text>
<text transform="translate(1244.63,1110.7) scale(1,1.045)" font-size="65.3">164</text>
<text transform="translate(1421.83,1110.7) scale(1,1.045)" font-size="65.3">166</text>
<text transform="translate(1599.03,1110.7) scale(1,1.045)" font-size="65.3">168</text>
<text transform="translate(1776.23,1110.7) scale(1,1.045)" font-size="65.3">170</text>
<text transform="translate(311.98,2240.7) scale(1,1.045)" font-size="66">225</text>
<text transform="translate(643.18,2240.7) scale(1,1.045)" font-size="66">230</text>
<text transform="translate(974.38,2240.7) scale(1,1.045)" font-size="66">235</text>
<text transform="translate(1305.58,2240.7) scale(1,1.045)" font-size="66">240</text>
<text transform="translate(1636.78,2240.7) scale(1,1.045)" font-size="66">245</text>
</g>
<text transform="translate(543.44,2363.3) scale(1,1.005)" font-size="80.12">Auger Electron Energy (eV)</text>
<text transform="translate(82.3,1740.95) rotate(-90) scale(1,1.005)" font-size="81.02">Normalized Electron Yield (arb. un.)</text>
<text transform="scale(1,1.035)" font-size="70.3"><tspan x="276.94" y="150.43">4.5</tspan> <tspan x="395.83" y="150.43">MeV</tspan> <tspan x="560.53" y="150.43">B</tspan><tspan x="607.47" y="114.69" font-size="40.2">3+</tspan><tspan x="654.04" y="150.43">(</tspan><tspan x="680.45" y="150.43">1s</tspan><tspan x="752.08" y="114.69" font-size="40.2">2</tspan> <tspan x="788.94" y="114.69" font-size="40.2">1</tspan><tspan x="810.91" y="150.43">S,</tspan> <tspan x="899.05" y="150.43">1s2s</tspan> <tspan x="1066.47" y="114.69" font-size="40.2">3</tspan><tspan x="1089.21" y="150.43">S)</tspan> <tspan x="1178.67" y="150.43">+</tspan>  <tspan x="1259.13" y="150.43">H</tspan><tspan x="1309.18" y="177.2" font-size="40.2">2</tspan></text>
<text transform="scale(1,1.035)" font-size="70.3"><tspan x="301.73" y="1248.12">6.0</tspan> <tspan x="419.83" y="1248.12">MeV</tspan> <tspan x="584.73" y="1248.12">C</tspan><tspan x="635.38" y="1212.37" font-size="40.2">4+</tspan><tspan x="682.14" y="1248.12">(</tspan><tspan x="708.65" y="1248.12">1s</tspan><tspan x="780.68" y="1212.37" font-size="40.2">2</tspan> <tspan x="816.04" y="1212.37" font-size="40.2">1</tspan><tspan x="837.81" y="1248.12">S,</tspan> <tspan x="925.95" y="1248.12">1s2s</tspan> <tspan x="1093.87" y="1212.37" font-size="40.2">3</tspan><tspan x="1116.61" y="1248.12">S)</tspan> <tspan x="1206.97" y="1248.12">+</tspan>  <tspan x="1286.33" y="1248.12">He</tspan></text>
<rect x="279.3" y="209.3" width="340.5" height="176" fill="#fff" stroke="#000" stroke-width="1.8"/>
<path d="M316.2,262.5H446" stroke="#ff0000" stroke-width="4.8" stroke-linecap="round"/>
<rect x="363.8" y="246.1" width="34.4" height="34.6" fill="#ff0000"/>
<path d="M316.2,333.6H446" stroke="#0000ff" stroke-width="4.8" stroke-linecap="round"/>
<circle cx="381" cy="334.7" r="19.2" fill="#0000ff"/>
<text transform="translate(461.54,282.5) scale(1,1.0047)" font-size="58.01">FPS</text>
<text transform="translate(462.29,353) scale(1,1.0076)" font-size="57.85">GPS</text>
<rect x="289.3" y="1342.1" width="327.9" height="170.5" fill="#fff" stroke="#000" stroke-width="1.8"/>
<path d="M321.3,1391.9H450.5" stroke="#ff0000" stroke-width="4.8" stroke-linecap="round"/>
<rect x="368.4" y="1375.5" width="34.4" height="34.6" fill="#ff0000"/>
<path d="M321.3,1463.4H450.5" stroke="#008000" stroke-width="4.8" stroke-linecap="round"/>
<path d="M385.6,1437.8L408,1477.9H363.2z" fill="#008000"/>
<text transform="translate(466.24,1411.9) scale(1,1.0113)" font-size="58.07">FPS</text>
<text transform="translate(467.67,1483) scale(1,1.0067)" font-size="58.33">GTS</text>
<text transform="translate(499.7,839.7) rotate(-90) scale(1,1.025)" font-size="65.2"><tspan x="-4.37" y="0.39">1s2s</tspan><tspan x="131.71" y="-34.63" font-size="39.5">2</tspan> <tspan x="172.61" y="-34.63" font-size="39.5">2</tspan><tspan x="194.34" y="0.39">S</tspan></text>
<text transform="translate(718.5,490.1) rotate(-90) scale(1,1.025)" font-size="65.2"><tspan x="-4.37" y="0.39">1s2s2p</tspan> <tspan x="223.99" y="-34.63" font-size="39.5">4</tspan><tspan x="246.35" y="0.39">P</tspan></text>
<text transform="translate(1053.7,849.4) rotate(-90) scale(1,1.025)" font-size="65.2"><tspan x="-4.37" y="0.39">1s2s2p</tspan> <tspan x="222.51" y="-34.63" font-size="39.5">2</tspan><tspan x="244.85" y="0.39">P</tspan> <tspan x="289.24" y="26.73" font-size="39.5">-</tspan></text>
<text transform="translate(1315.8,680.6) rotate(-90) scale(1,1.025)" font-size="65.2"><tspan x="-4.37" y="0.39">1s2s2p</tspan> <tspan x="222.61" y="-34.63" font-size="39.5">2</tspan><tspan x="245.15" y="0.39">P</tspan> <tspan x="289.47" y="26.73" font-size="39.5">+</tspan></text>
<text transform="translate(1606.7,488.7) rotate(-90) scale(1,1.025)" font-size="65.2"><tspan x="-4.37" y="0.39">1s2p</tspan><tspan x="135.81" y="-34.63" font-size="39.5">2</tspan> <tspan x="175.41" y="-34.63" font-size="39.5">2</tspan><tspan x="199.15" y="0.39">D</tspan></text>
<path d="M1595.5,495.5V574.4L1496.5,712.6V786" fill="none" stroke="#000" stroke-width="4.6" stroke-linejoin="miter"/>
</svg>
</body></html>
